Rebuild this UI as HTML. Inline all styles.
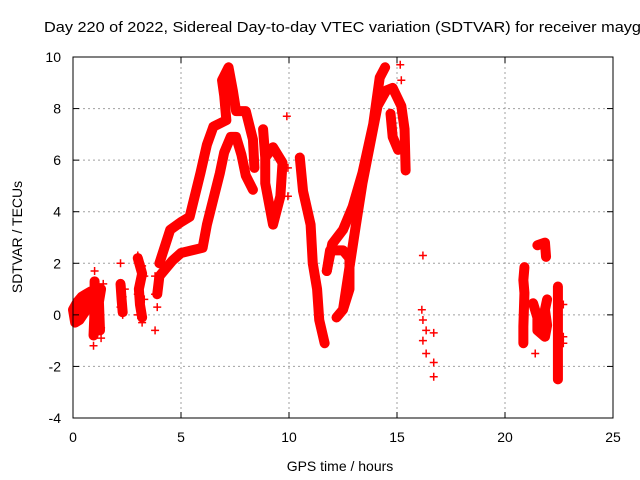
<!DOCTYPE html>
<html><head><meta charset="utf-8"><style>
body{margin:0;background:#fff}
svg{display:block;font-family:"Liberation Sans",sans-serif}
</style></head><body>
<svg id="c" width="640" height="480">
<text x="44" y="32" font-size="15" textLength="606" lengthAdjust="spacingAndGlyphs" fill="#000">Day 220 of 2022, Sidereal Day-to-day VTEC variation (SDTVAR) for receiver maygo</text>
<text x="340" y="471" font-size="14" text-anchor="middle">GPS time / hours</text>
<text x="22" y="237" font-size="14" text-anchor="middle" transform="rotate(-90 22 237)">SDTVAR / TECUs</text>
<g id="grid"></g><g id="marks"></g><g id="axes"></g>
</svg>
<script>
const xTicks=[0,5,10,15,20,25];
const yTicks=[-4,-2,0,2,4,6,8,10];
// continuous tracks [hour, TECU]
const trackLower=[[3.9,0.8],[4.0,1.5],[4.3,1.8],[4.6,2.1],[5.0,2.4],[5.5,2.5],[6.0,2.6],[6.2,3.5],[6.5,4.5],[6.8,5.5],[7.0,6.3],[7.3,6.9],[7.55,6.9],[7.8,6.2],[8.0,5.4],[8.33,4.85]];
const trackUpper=[[4.0,2.0],[4.5,3.3],[5.0,3.6],[5.4,3.8],[5.9,5.5],[6.2,6.6],[6.5,7.3],[7.1,7.55],[7.0,8.5],[6.9,9.1],[7.2,9.6],[7.4,8.7],[7.55,7.9],[8.0,7.9],[8.33,6.8],[8.4,5.7]];
const trackLoop=[[8.8,7.2],[8.9,6.1],[8.9,5.1],[9.26,3.5],[9.6,4.6],[9.7,5.9],[9.26,6.5],[8.9,6.1]];
const trackDrop=[[10.5,6.1],[10.65,4.8],[11.0,3.5],[11.1,2.0],[11.3,1.0],[11.4,-0.2],[11.65,-1.1]];
const trackMid=[[11.75,1.7],[11.9,2.5],[12.5,2.5],[12.8,2.2],[12.8,1.0],[12.5,0.2],[12.2,-0.1],[12.5,0.2],[13.1,3.5],[13.4,5.1],[13.75,6.6],[14.1,8.1],[14.5,8.7],[14.8,8.8],[15.2,8.1],[15.35,7.2],[15.4,5.6]];
const trackRise=[[11.75,1.7],[12.0,2.75],[12.5,3.3],[12.95,4.2],[13.4,5.5],[13.9,7.4],[14.2,9.2],[14.45,9.6]];
const trackLobe=[[14.7,7.8],[14.8,6.9],[15.05,6.4]];
const trackEarly=[[0,0.2],[0.2,0.5],[0.4,0.7],[0.6,0.8],[0.8,0.9],[0.7,0.3],[0.3,-0.2],[0.1,-0.3],[0,0.2],[0.5,0.4]];
const trackH1=[[1.0,1.3],[1.0,0.2],[0.95,-0.8],[1.1,-0.3],[1.25,-0.6],[1.2,0.5],[1.3,1.0]];
const trackH2=[[2.2,1.2],[2.25,0.6],[2.3,0.1]];
const trackH3=[[3.0,2.2],[3.2,1.6],[3.05,1.0],[3.1,0.4],[3.2,-0.1]];
const trackRight1=[[21.5,2.7],[21.85,2.8],[21.9,2.25]];
const trackRight2=[[20.9,1.85],[20.85,1.35],[20.9,0.85],[20.85,-0.45],[20.85,-1.1]];
const trackRight3=[[21.3,0.45],[21.5,-0.1],[21.5,-0.6],[21.85,-0.85],[21.95,-0.4],[21.85,0.2],[21.95,0.6]];
const trackRight4=[[22.45,1.1],[22.45,0.1],[22.45,-1.0],[22.45,-1.6],[22.45,-2.5]];
// isolated points
const scatter=[[1.0,1.7],[1.0,1.0],[1.05,0.2],[1.0,-0.6],[0.95,-1.2],[1.1,-0.4],[1.2,0.1],[1.3,-0.5],[1.3,-0.9],[1.4,1.2],[1.2,0.6],
[2.2,2.0],[2.2,1.2],[2.3,0.7],[2.2,0.3],[2.3,0.0],[2.4,1.0],
[3.0,2.3],[3.2,1.9],[3.3,1.5],[3.0,0.8],[3.1,0.5],[3.0,0.0],[3.2,-0.3],[3.3,0.6],
[3.8,1.5],[3.8,0.8],[3.9,0.3],[3.8,-0.6],
[9.9,7.7],[9.95,5.7],[9.95,4.6],[15.15,9.7],[15.2,9.1],
[16.2,2.3],[16.15,0.2],[16.2,-0.2],[16.35,-0.6],[16.2,-1.0],[16.35,-1.5],[16.7,-0.7],[16.7,-1.85],[16.7,-2.4],
[21.4,-1.5],[22.7,0.4],[22.7,-0.85],[22.7,-1.1],[21.0,0.5]];
const L=73,R=613,T=57,B=418;
const sx=v=>L+(v-0)/(25-0)*(R-L);
const sy=v=>B-(v+4)/(14)*(B-T);
const NS="http://www.w3.org/2000/svg";
function mk(tag,attrs,parent){const e=document.createElementNS(NS,tag);for(const k in attrs)e.setAttribute(k,attrs[k]);parent.appendChild(e);return e;}
const grid=document.getElementById('grid'),marks=document.getElementById('marks'),axes=document.getElementById('axes');
xTicks.forEach(t=>{
 if(t>0&&t<25){const g=mk('line',{x1:sx(t),x2:sx(t),y1:T,y2:B,stroke:'#a0a0a0','stroke-dasharray':'2,3'},grid);
 
 }
 mk('line',{x1:sx(t),x2:sx(t),y1:B,y2:B-6,stroke:'#000'},axes);
 mk('line',{x1:sx(t),x2:sx(t),y1:T,y2:T+6,stroke:'#000'},axes);
 const tx=mk('text',{x:sx(t),y:B+24,'font-size':14,'text-anchor':'middle'},axes);tx.textContent=t;
 
 
});
yTicks.forEach(t=>{
 if(t>-4&&t<10){const g=mk('line',{x1:L,x2:R,y1:sy(t),y2:sy(t),stroke:'#a0a0a0','stroke-dasharray':'2,3'},grid);
 
 }
 mk('line',{x1:L,x2:L+6,y1:sy(t),y2:sy(t),stroke:'#000'},axes);
 mk('line',{x1:R,x2:R-6,y1:sy(t),y2:sy(t),stroke:'#000'},axes);
 const tx=mk('text',{x:L-12,y:sy(t)+5,'font-size':14,'text-anchor':'end'},axes);tx.textContent=t;
 
 
});
const fr=mk('rect',{x:L,y:T,width:R-L,height:B-T,fill:'none',stroke:'#000'},axes);


function plus(p){
 const x=sx(p[0]),y=sy(p[1]);
 const g=mk('path',{d:`M${x-4} ${y}H${x+4}M${x} ${y-4}V${y+4}`,stroke:'#f00','stroke-width':1.5,fill:'none'},marks);
 
 
}
const tracks=[trackLower,trackUpper,trackLoop,trackDrop,trackMid,trackRise,trackLobe,trackEarly,trackH1,trackH2,trackH3,trackRight1,trackRight2,trackRight3,trackRight4];
tracks.forEach(tr=>{
 const pl=mk('polyline',{points:tr.map(p=>sx(p[0])+','+sy(p[1])).join(' '),fill:'none',stroke:'#f00','stroke-width':10,'stroke-linejoin':'round','stroke-linecap':'round'},marks);
 
 
 tr.forEach(plus);
});
scatter.forEach(plus);
</script>
</body></html>
